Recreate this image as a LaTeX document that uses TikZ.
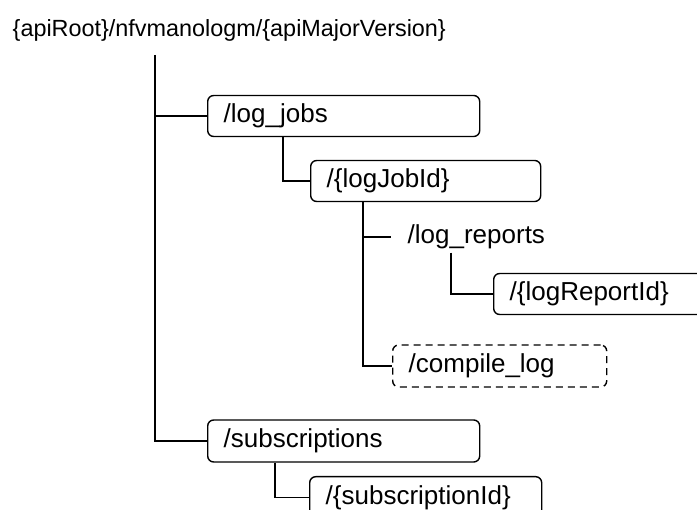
\documentclass[tikz,border=0pt]{standalone}
\usepackage{fontspec}
\setmainfont{Liberation Sans}
\usepackage{tikz}

\tikzset{
  res/.style={draw, rounded corners=6, anchor=west, minimum height=41,
    inner xsep=16, inner ysep=0, align=left, font=\fontsize{26}{29}\selectfont},
  optres/.style={res, dashed, dash pattern=on 7pt off 5pt},
  link/.style={line width=1.6}
}

\begin{document}
\begin{tikzpicture}[x=1pt,y=-1pt,line width=1.4]
        \useasboundingbox (0,0) rectangle (697,510);
        \node[anchor=west,inner sep=0,font=\fontsize{23.4}{26}\selectfont] (root) at (12,30) {\{apiRoot\}/nfvmanologm/\{apiMajorVersion\}};
        \coordinate (trunk) at (155,55);
        \node[res,text width=240] (logjobs) at (207,116) {/log\_jobs};
        \node[res,text width=198] (logjobid) at (310,181) {/\{logJobId\}};
        \node[res,draw=none,minimum height=30,text width=160] (logreps) at (391,237) {/log\_reports};
        \node[res,text width=230] (logrepid) at (493,294) {/\{logReportId\}};
        \node[optres,text width=182,minimum height=42] (compile) at (392,366) {/compile\_log};
        \node[res,text width=240,minimum height=42] (subs) at (207,441) {/subscriptions};
        \node[res,text width=200,minimum height=42,anchor=north west] (subid) at (309,476) {/\{subscriptionId\}};
        \draw[link] (trunk) |- (subs.west);
        \draw[link] (trunk |- logjobs.west) -- (logjobs.west);
        \draw[link] ([xshift=76]logjobs.south west) |- (logjobid.west);
        \draw[link] ([xshift=53]logjobid.south west) |- (compile.west);
        \draw[link] ([xshift=53]logjobid.south west |- logreps.west) -- (logreps.west);
        \draw[link] ([xshift=60]logreps.south west) |- (logrepid.west);
        \draw[link] ([xshift=68]subs.south west) |- (subid.west);
\end{tikzpicture}
\end{document}
